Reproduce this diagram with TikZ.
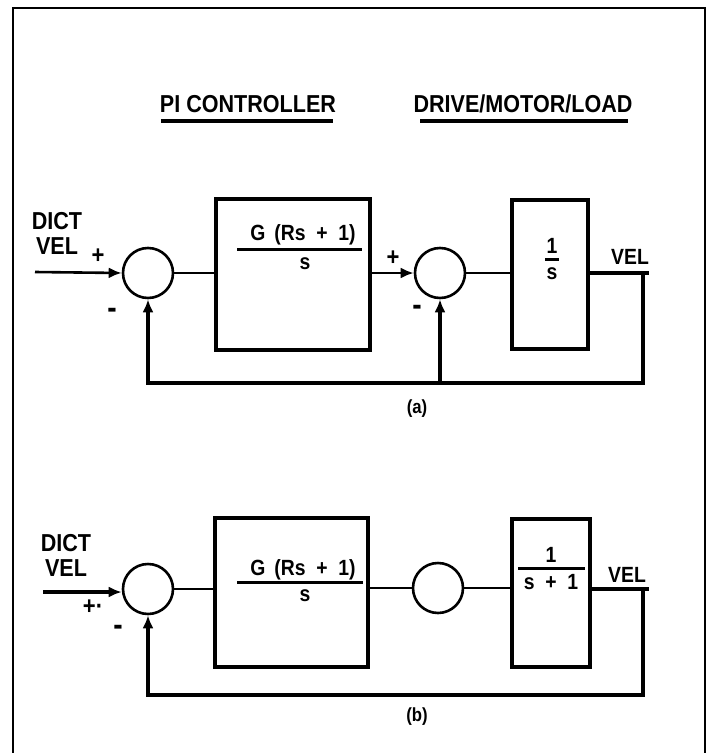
\documentclass[tikz,border=0pt]{standalone}
\usepackage{fontspec}
\setmainfont{Liberation Sans}[FakeStretch=0.88]
\usetikzlibrary{arrows.meta}
\tikzset{
  sumj/.style={circle, draw, line width=2.6pt, minimum size=50pt, inner sep=0pt},
  blk/.style={rectangle, draw, line width=3.6pt, inner sep=0pt},
  lbl/.style={font=\bfseries\fontsize{22}{24}\selectfont, inner sep=0pt},
  big/.style={font=\bfseries\fontsize{24.5}{25}\selectfont, inner sep=0pt, align=center},
  sgn/.style={font=\bfseries\fontsize{25}{26}\selectfont, inner sep=0pt},
  msgn/.style={font=\bfseries\fontsize{32}{32}\selectfont, inner sep=0pt},
  sublbl/.style={font=\bfseries\fontsize{19}{20}\selectfont, inner sep=0pt},
  wire/.style={line width=2.6pt},
  fbk/.style={line width=3.4pt},
  arr/.style={-{Latex[length=13pt,width=11pt]}},
  bar/.style={line width=3pt},
  uline/.style={line width=4pt},
}
\begin{document}
\begin{tikzpicture}[x=1pt,y=-1pt]
\useasboundingbox (0,0) rectangle (710,753);
% frame
\draw[line width=2.4pt] (13,753) -- (13,8) -- (705,8) -- (705,753);

% titles
\node[big] (t1) at (248,104) {PI CONTROLLER};
\node[big] (t2) at (523,104) {DRIVE/MOTOR/LOAD};
\draw[uline] (t1.south west) ++(1,8) coordinate (t1a) -- ([xshift=-3pt]t1.south east |- t1a);
\draw[uline] (t2.south west) ++(7,8) coordinate (t2a) -- ([xshift=-5pt]t2.south east |- t2a);

% ================= (a) =================
\node[big] (dva) at (57,233) {DICT\\VEL};
\node[sumj] (c1a) at (148,273) {};
\node[blk, minimum width=154pt, minimum height=151pt] (b1a) at (293,274.5) {};
\node[sumj] (c2a) at (440,273) {};
\node[blk, minimum width=76pt, minimum height=149pt] (b2a) at (550,274.5) {};

\node[lbl] (n1a) at (303,235) {G\,\ (Rs\ \ +\ \ 1)};
\node[lbl] (d1a) at (305,264) {s};
\draw[bar] (237,249) coordinate (bl1a) -- (362,249) coordinate (br1a);
\node[lbl] (n2a) at (552,246) {1};
\node[lbl] (d2a) at (552,274) {s};
\draw[bar] (545,259) coordinate (bl2a) -- (559,259) coordinate (br2a);

\node[sgn] (p1a) at (98,256) {+};
\node[msgn] (m1a) at (112,313) {-};
\node[sgn] (p2a) at (393,258) {+};
\node[msgn] (m2a) at (417,310) {-};
\node[lbl] (vela) at (630,257) {VEL};
\node[sublbl] (capa) at (417,409) {(a)};

\coordinate (ina) at (35,272);
\coordinate (outa) at (649,273);
\coordinate (tapa) at (643,273);
\coordinate (fba) at (643,383);

\draw[wire, arr] (ina) -- (c1a.west);
\draw[wire] (c1a.east) -- (b1a.west |- c1a.east);
\draw[wire, arr] (b1a.east |- c2a.west) -- (c2a.west);
\draw[wire] (c2a.east) -- (b2a.west |- c2a.east);
\draw[fbk] (b2a.east |- outa) -- (outa);
\draw[fbk, arr] (tapa) -- (fba) -| (c1a.south);
\draw[fbk, arr] (c2a.south |- fba) -- (c2a.south);

% ================= (b) =================
\node[big] (dvb) at (66,555) {DICT\\VEL};
\node[sumj] (c1b) at (148,589) {};
\node[blk, minimum width=153pt, minimum height=149pt] (b1b) at (291.5,592.5) {};
\node[sumj] (c2b) at (438,588) {};
\node[blk, minimum width=78pt, minimum height=148pt] (b2b) at (551,593) {};

\node[lbl] (n1b) at (303,570) {G\,\ (Rs\ \ +\ \ 1)};
\node[lbl] (d1b) at (305,596) {s};
\draw[bar] (237,582) coordinate (bl1b) -- (363,582) coordinate (br1b);
\node[lbl] (n2b) at (551,555) {1};
\node[lbl] (d2b) at (551,582) {s\ \ +\ \ 1};
\draw[bar] (518,568) coordinate (bl2b) -- (585,568) coordinate (br2b);

\node[sgn] (p1b) at (93,607) {+·};
\node[msgn] (m1b) at (118,630) {-};
\node[lbl] (velb) at (627,575) {VEL};
\node[sublbl] (capb) at (417,717) {(b)};

\coordinate (inb) at (43,592);
\coordinate (outb) at (649,589);
\coordinate (tapb) at (643,589);
\coordinate (fbb) at (643,695);

\draw[fbk, arr] (inb) -- (c1b.west |- inb);
\draw[wire] (c1b.east) -- (b1b.west |- c1b.east);
\draw[wire] (b1b.east |- c2b.west) -- (c2b.west);
\draw[wire] (c2b.east) -- (b2b.west |- c2b.east);
\draw[fbk] (b2b.east |- outb) -- (outb);
\draw[fbk, arr] (tapb) -- (fbb) -| (c1b.south);
\end{tikzpicture}
\end{document}
